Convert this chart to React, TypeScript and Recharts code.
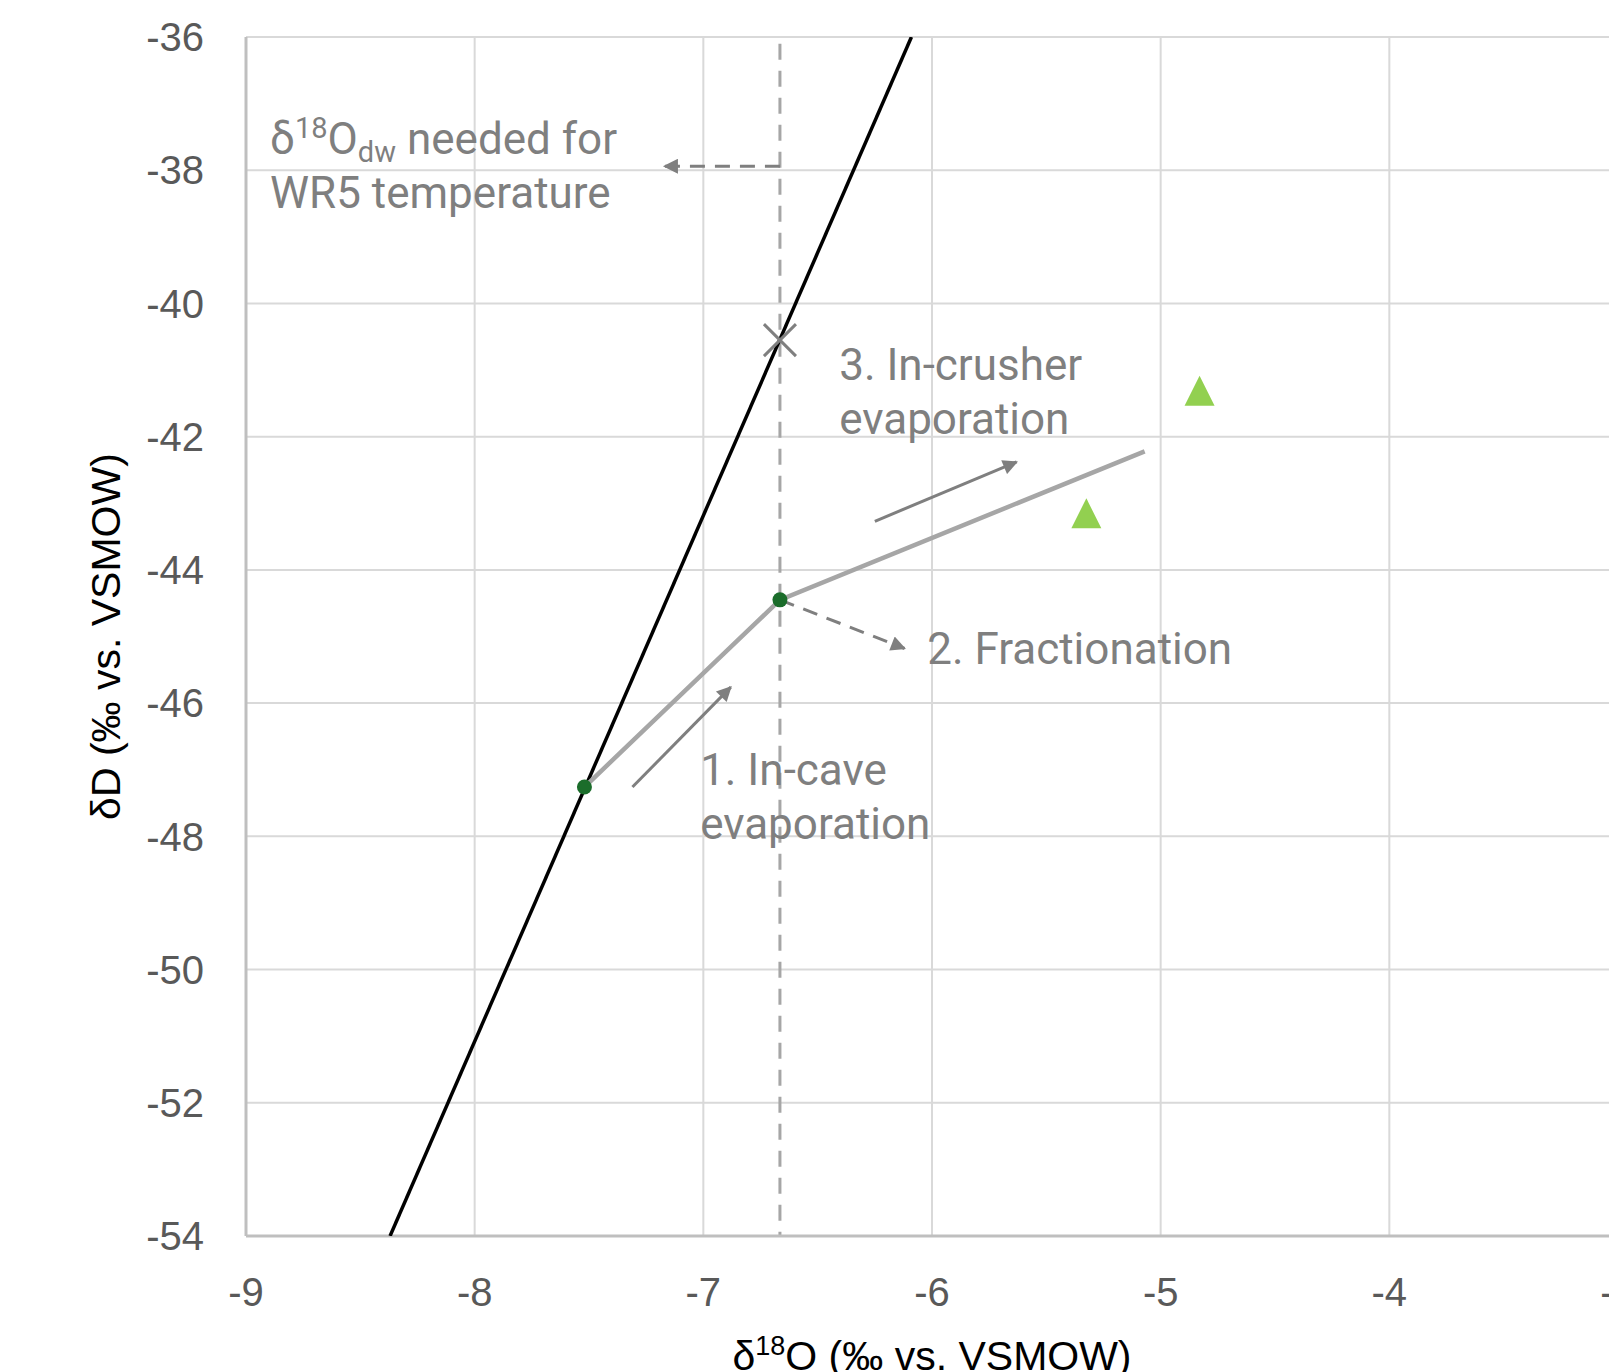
import React from "react";
import {
  ScatterChart,
  Scatter,
  XAxis,
  YAxis,
  CartesianGrid,
  ReferenceLine,
} from "recharts";

// axis ticks
const xTicks = [-9, -8, -7, -6, -5, -4, -3];
const yTicks = [-54, -52, -50, -48, -46, -44, -42, -40, -38, -36];

// meteoric water line
const meteoricLine = [
  { x: -8.37, y: -54 },
  { x: -6.09, y: -36 },
];

// evaporation path (grey)
const evapPath = [
  { x: -7.52, y: -47.26 },
  { x: -6.665, y: -44.45 },
  { x: -5.07, y: -42.22 },
];

// drip water points (dark green)
const waterPoints = [
  { x: -7.52, y: -47.26 },
  { x: -6.665, y: -44.45 },
];

// measured samples (triangles)
const samples = [
  { x: -4.83, y: -41.31 },
  { x: -5.325, y: -43.15 },
];

// WR5 point on the line
const wr5Point = [{ x: -6.665, y: -40.55 }];
const wr5X = -6.665;

// arrows
const arrowWR5 = [
  { x: -6.665, y: -37.94 },
  { x: -7.17, y: -37.94 },
];
const arrowInCave = [
  { x: -7.31, y: -47.26 },
  { x: -6.88, y: -45.76 },
];
const arrowFrac = [
  { x: -6.665, y: -44.45 },
  { x: -6.12, y: -45.18 },
];
const arrowCrusher = [
  { x: -6.25, y: -43.27 },
  { x: -5.63, y: -42.38 },
];

// text annotations (first line baseline position)
const notes = [
  { x: -6.406, y: -41.15, lines: ["3. In-crusher", "evaporation"] },
  { x: -6.021, y: -45.41, lines: ["2. Fractionation"] },
  { x: -7.014, y: -47.23, lines: ["1. In-cave", "evaporation"] },
];
const wr5Note = [{ x: -8.895, y: -37.76 }];

const GREY = "#7f7f7f";
const TICK_FONT = "'Liberation Sans', Arial, sans-serif";
const NOTE_FONT = "Roboto, 'Noto Sans', sans-serif";

const noShape = () => <g />;

const NoteText = (props: any) => {
  const { cx, cy, payload } = props;
  return (
    <g fill={GREY} fontSize={44} fontFamily={NOTE_FONT}>
      {payload.lines.map((l: string, i: number) => (
        <text key={i} x={cx} y={cy + i * 54}>
          {l}
        </text>
      ))}
    </g>
  );
};

const WR5Text = (props: any) => {
  const { cx, cy } = props;
  return (
    <g fill={GREY} fontSize={44} fontFamily={NOTE_FONT}>
      <text x={cx} y={cy}>
        δ
        <tspan dy={-16} fontSize={29}>
          18
        </tspan>
        <tspan dy={16}>O</tspan>
        <tspan dy={8} fontSize={29}>
          dw
        </tspan>
        <tspan dy={-8}> needed for</tspan>
      </text>
      <text x={cx} y={cy + 54}>
        WR5 temperature
      </text>
    </g>
  );
};

const XMark = (props: any) => {
  const { cx, cy } = props;
  const s = 16;
  return (
    <g stroke={GREY} strokeWidth={3}>
      <line x1={cx - s} y1={cy - s} x2={cx + s} y2={cy + s} />
      <line x1={cx - s} y1={cy + s} x2={cx + s} y2={cy - s} />
    </g>
  );
};

const Tri = (props: any) => {
  const { cx, cy } = props;
  const h = 15;
  return (
    <path
      d={`M${cx},${cy - h} L${cx + h},${cy + h} L${cx - h},${cy + h} Z`}
      fill="#92d050"
    />
  );
};

const Dot = (props: any) => {
  const { cx, cy } = props;
  return <circle cx={cx} cy={cy} r={7.5} fill="#1b6d2b" />;
};

const XTitle = (props: any) => {
  const { viewBox } = props;
  const cx = viewBox.x + viewBox.width / 2;
  return (
    <text
      x={cx}
      y={viewBox.y + 134}
      textAnchor="middle"
      fill="#000"
      fontSize={41}
      fontFamily={TICK_FONT}
    >
      δ
      <tspan dy={-15} fontSize={27}>
        18
      </tspan>
      <tspan dy={15}>O (‰ vs. VSMOW)</tspan>
    </text>
  );
};

const YTitle = (props: any) => {
  const { viewBox } = props;
  const cx = viewBox.x + 60;
  const cy = viewBox.y + viewBox.height / 2;
  return (
    <text
      x={cx}
      y={cy}
      textAnchor="middle"
      dominantBaseline="central"
      transform={`rotate(-90, ${cx}, ${cy})`}
      fill="#000"
      fontSize={41}
      fontFamily={TICK_FONT}
    >
      δD (‰ vs. VSMOW)
    </text>
  );
};

export default function App() {
  const tickStyle = { fill: "#595959", fontSize: 40, fontFamily: TICK_FONT };
  return (
    <div
      style={{
        position: "fixed",
        left: 0,
        top: 0,
        width: 1609,
        height: 1372,
        overflow: "hidden",
        background: "#fff",
      }}
    >
      <svg width={0} height={0} style={{ position: "absolute" }}>
        <defs>
          <marker
            id="arrowHead"
            viewBox="0 0 10 10"
            refX={9}
            refY={5}
            markerUnits="userSpaceOnUse"
            markerWidth={18}
            markerHeight={15}
            orient="auto"
          >
            <path d="M0,0 L10,5 L0,10 Z" fill={GREY} />
          </marker>
        </defs>
      </svg>
      <ScatterChart
        width={1700}
        height={1400}
        margin={{ top: 37, right: 82, bottom: 24, left: 46 }}
      >
        <CartesianGrid stroke="#d9d9d9" strokeWidth={2} />
        <XAxis
          type="number"
          dataKey="x"
          domain={[-9, -3]}
          ticks={xTicks}
          allowDataOverflow
          tickLine={false}
          tickSize={0}
          tickMargin={42}
          axisLine={{ stroke: "#bfbfbf", strokeWidth: 3 }}
          tick={tickStyle}
          height={140}
          label={XTitle}
        />
        <YAxis
          type="number"
          dataKey="y"
          domain={[-54, -36]}
          ticks={yTicks}
          allowDataOverflow
          tickLine={false}
          tickSize={0}
          tickMargin={42}
          axisLine={{ stroke: "#bfbfbf", strokeWidth: 3 }}
          tick={tickStyle}
          width={200}
          label={YTitle}
        />
        <ReferenceLine
          segment={[
            { x: wr5X, y: -36.1 },
            { x: wr5X, y: -54 },
          ]}
          stroke="#a6a6a6"
          strokeWidth={3}
          strokeDasharray="16 11"
        />
        <Scatter
          data={meteoricLine}
          line={{ stroke: "#000", strokeWidth: 3.5 }}
          shape={noShape}
          isAnimationActive={false}
        />
        <Scatter
          data={evapPath}
          line={{ stroke: "#a6a6a6", strokeWidth: 4.5 }}
          shape={noShape}
          isAnimationActive={false}
        />
        <Scatter
          data={arrowWR5}
          line={{
            stroke: GREY,
            strokeWidth: 3,
            strokeDasharray: "15 10",
            markerEnd: "url(#arrowHead)",
          }}
          shape={noShape}
          isAnimationActive={false}
        />
        <Scatter
          data={arrowFrac}
          line={{
            stroke: GREY,
            strokeWidth: 3,
            strokeDasharray: "15 10",
            markerEnd: "url(#arrowHead)",
          }}
          shape={noShape}
          isAnimationActive={false}
        />
        <Scatter
          data={arrowInCave}
          line={{ stroke: GREY, strokeWidth: 3, markerEnd: "url(#arrowHead)" }}
          shape={noShape}
          isAnimationActive={false}
        />
        <Scatter
          data={arrowCrusher}
          line={{ stroke: GREY, strokeWidth: 3, markerEnd: "url(#arrowHead)" }}
          shape={noShape}
          isAnimationActive={false}
        />
        <Scatter data={waterPoints} shape={Dot} isAnimationActive={false} />
        <Scatter data={samples} shape={Tri} isAnimationActive={false} />
        <Scatter data={wr5Point} shape={XMark} isAnimationActive={false} />
        <Scatter data={notes} shape={NoteText} isAnimationActive={false} />
        <Scatter data={wr5Note} shape={WR5Text} isAnimationActive={false} />
      </ScatterChart>
    </div>
  );
}
